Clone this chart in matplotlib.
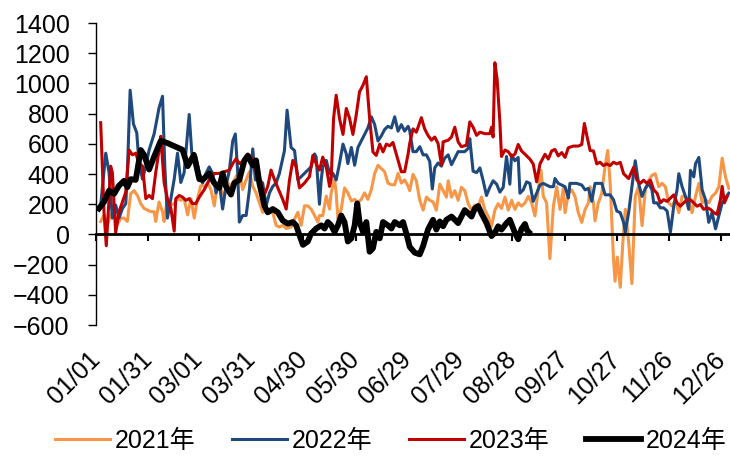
import numpy as np
import matplotlib
matplotlib.use("Agg")
import matplotlib.pyplot as plt

plt.rcParams['font.family'] = ['Liberation Sans', 'Noto Sans CJK SC']

# Jour de l'année (0 = 01/01) et valeurs
d21 = [2.7, 4.6, 6.5, 8.4, 10.4, 12.3, 14.2, 16.1, 18, 19.9, 21.9, 23.8, 25.7, 27.6, 29.5, 31.5,
       33.4, 34.3, 36.2, 38.2, 39.1, 41, 43, 44.9, 46.8, 48.7, 50.6, 52.6, 54.5, 56.4, 58.3, 60.2,
       62.2, 64.1, 66, 67.9, 69.8, 71.8, 73.7, 75.6, 77.5, 80.4, 82.3, 84.2, 86.2, 88.1, 90, 91.9,
       93.8, 95.7, 97.7, 99.6, 101.5, 103.4, 105.3, 107.2, 109.2, 112, 114, 115.9, 117.8, 119.7,
       121.6, 123.5, 125.5, 127.4, 128.3, 130.2, 132.2, 134.1, 135, 137, 137.9, 138.9, 140.8, 142.7,
       144.6, 146.6, 148.5, 150.4, 152.3, 154.2, 156.1, 158.1, 160, 161.9, 163.8, 165.7, 167.6,
       169.6, 171.5, 173.4, 175.3, 177.2, 179.2, 180.1, 182, 183.9, 185.9, 187.8, 189.7, 191.6,
       193.5, 195.4, 197.4, 199.3, 201.2, 202.2, 204.1, 206, 207.9, 209.8, 211.7, 213.7, 215.6,
       217.5, 219.4, 221.3, 223.3, 225.2, 227.1, 229, 230.9, 232.8, 234.8, 236.7, 238.6, 240.5,
       242.4, 244.3, 246.3, 248.2, 250.1, 252, 253.9, 255.5, 256.8, 258.7, 260.6, 262.6, 264.5,
       266.4, 268.3, 269.3, 271.2, 273.1, 275, 276.9, 278.9, 280.8, 282.7, 283.7, 285.6, 286.5,
       288.4, 290.4, 292.3, 293.8, 295.2, 297.1, 298, 299.3, 301, 302.5, 303.9, 305.8, 307.7,
       309.6, 311.5, 313.5, 315.4, 317.3, 319.2, 321.1, 323.1, 325, 326.9, 328.8, 330.7, 332.6,
       334.6, 336.5, 338.4, 340.3, 342.2, 344.2, 346.1, 348, 349.9, 351.8, 353.7, 355.7, 357.6,
       359.5, 361.4, 363.3]
v21 = [86, 129, 65, 129, 150, 65, 108, 108, 86, 269, 290, 258, 204, 172, 161, 150,
       150, 86, 215, 150, 86, 237, 194, 204, 237, 226, 237, 129, 237, 108, 237, 323,
       318, 340, 297, 189, 340, 297, 254, 340, 318, 383, 415, 297, 361, 415, 318, 275,
       211, 146, 168, 146, 146, 60, 49, 60, 39, 49, 103, 146, 60, 189,
       189, 168, 125, 82, 125, 125, 254, 168, 275, 361, 275, 103, 168, 308,
       275, 222, 232, 211, 232, 275, 232, 297, 404, 458, 437, 415, 340,
       329, 329, 404, 340, 361, 318, 290, 398, 355, 226, 161, 247, 226,
       215, 161, 333, 290, 247, 355, 247, 290, 226, 312, 290, 204, 161,
       194, 183, 247, 161, 118, 54, 161, 204, 172, 247, 161, 226, 166,
       209, 187, 209, 252, 209, 123, 295, 424, 252, 209, -160, 187, 316,
       166, 305, 144, 273, 295, 252, 144, 80, 166, 209, 316, 209, 90,
       209, 273, 456, 556, 338, -160, -310, -150, -350, -49, 166, -49, -326,
       252, 316, 58, 295, 359, 391, 402, 316, 338, 316, 209, 187, 230,
       144, 252, 252, 230, 144, 252, 338, 209, 230, 209, 252, 273, 316,
       505, 381, 305]

d22 = [2.7, 5.6, 7.5, 9.4, 11.3, 13.2, 15.2, 17.1, 18, 19.6, 21.5, 23.4, 24.7, 26.7, 28.6, 30.5,
       33.4, 36.2, 38.2, 39.5, 41, 43, 44.9, 46.8, 48.7, 50.6, 53.5, 55, 57.3, 59.3,
       61.2, 63.1, 65, 67, 68.9, 70.8, 72.7, 74.6, 76.6, 78.5, 80, 81.4, 82.3, 84.2, 86.2, 88.1,
       90, 91.5, 93.8, 95.7, 97.7, 99.6, 101.5, 103.4, 105.3, 108.2, 109.7, 112, 114, 115.9, 117.8,
       119.7, 121.6, 123.5, 125.5, 126.4, 128.3, 129.3, 130.2, 132.2, 134.1, 136, 137.9, 139.8,
       141.8, 143.7, 144.6, 146.6, 148.5, 150.4, 152.3, 154.2, 156.1, 158.1, 160, 161.9, 163.8,
       165.7, 167.6, 169.6, 171.5, 173.4, 175.3, 177.2, 179.2, 180.1, 182, 183.9, 185.9, 187.8,
       189.7, 191.6, 193.1, 194.5, 196.4, 198.3, 200.2, 202.2, 204.1, 206, 207.9, 209.8, 211.7,
       213.7, 214.6, 216.5, 218.5, 220.4, 222.3, 224.2, 226.1, 228, 230, 231.9, 233.8, 235.7,
       237.6, 238.6, 240.5, 242.4, 243.4, 245.3, 247.2, 249.1, 251, 253, 254.9, 256.8, 258.7,
       260.6, 262.6, 263.5, 265.4, 267.4, 269.3, 271.2, 272.1, 274.1, 276, 278.9, 280.8, 282.7,
       284.6, 286.5, 288.4, 290.4, 292.3, 295.2, 297.1, 299, 301, 302.9, 303.9, 305.8, 307.7,
       309.6, 311.5, 313.5, 315.4, 317.3, 319.2, 320.2, 322.1, 324, 325.9, 327.9, 329.8, 331.7,
       333.6, 334.6, 336.5, 338.4, 340.3, 341.3, 343.2, 344.2, 346.1, 348, 349.9, 351.8, 353.7,
       355.7, 357.6, 359.5, 361.4, 363.3]
v22 = [194, 538, 409, 108, 194, 108, 172, 204, 409, 955, 731, 673, 473, 366, 452, 559,
       667, 838, 915, 452, 108, 237, 366, 538, 344, 409, 794, 538, 516, 409,
       340, 404, 447, 404, 275, 340, 168, 318, 426, 619, 665, 404, 82, 125, 125, 297,
       566, 361, 361, 340, 189, 275, 318, 340, 404, 555, 823, 576, 555, 361, 383,
       404, 426, 447, 533, 512, 200, 361, 447, 490, 404, 404, 361, 469,
       598, 533, 469, 576, 458, 576, 619, 662, 705, 779, 727, 619, 652,
       695, 716, 705, 779, 684, 727, 684, 716, 688, 548, 548, 581, 527,
       527, 484, 301, 441, 473, 452, 505, 527, 462, 505, 548, 548, 548,
       570, 634, 419, 409, 441, 355, 258, 312, 355, 333, 280, 312, 516,
       333, 527, 488, 510, 273, 295, 348, 338, 219, 273, 327, 338, 327,
       316, 316, 370, 338, 327, 316, 241, 338, 338, 338, 327, 295, 305,
       219, 338, 338, 338, 262, 262, 230, 155, 144, 80, 15, 144, 316,
       488, 338, 252, 305, 338, 295, 209, 209, 176, 176, 155, 15, 187,
       295, 402, 316, 252, 166, 424, 381, 467, 510, 295, 230, 80, 144,
       37, 123, 209, 241, 273]

d23 = [2.7, 4.6, 5.9, 7.5, 8.4, 9.4, 11.3, 13.2, 15.2, 17.1, 19, 20.9, 22.8, 24.7, 26.7, 28.6,
       30.5, 32.4, 34.3, 36.2, 37.2, 39.1, 41, 43, 44.9, 45.8, 47.8, 49.7, 51.6, 53.5, 55.4, 57.3,
       59.3, 62.2, 65, 67.9, 70.8, 73.7, 76.6, 78.5, 80.4, 82.3, 85.2, 87.1, 89, 91, 92.9, 94.8,
       96.7, 98.6, 100.5, 102.5, 104.4, 107.2, 109.2, 111.1, 113, 114.9, 116.8, 119.7,
       122.6, 124.5, 126.4, 128.3, 130.2, 132.2, 134.1, 135, 136.4, 137.9, 139.8, 141.8, 143.7,
       145.6, 147.5, 149.4, 151.3, 153.3, 155.2, 157.1, 159, 160.9, 162.9, 164.8, 166.7, 168.6,
       170.5, 172.4, 175.3, 177.2, 179.2, 180.1, 182, 183.9, 186.8, 188.7, 190.6, 192.6, 194.5,
       196.4, 198.3, 199.3, 202.2, 204.1, 206, 207.9, 209.8, 212.7, 214.6, 216.5, 218.5, 220.4,
       223.3, 226.1, 227.1, 228, 229, 230.3, 231.9, 232.8, 234.8, 236.7, 238.6, 240.5, 242.4,
       244.3, 246.3, 249.1, 251, 253, 254.9, 257.8, 259.7, 261.6, 263.5, 265.4, 267.4, 269.3,
       271.2, 274.1, 277, 278.9, 280.4, 281.7, 283.7, 285.6, 287.5, 289.4, 291.3, 293.2, 295.2,
       297.1, 299, 301, 302.9, 305.8, 308.7, 310.6, 312.5, 314.4, 316.3, 318.3, 320.2, 322.1,
       324, 325.9, 327.9, 329.8, 331.7, 333.6, 335.5, 337.4, 339.4, 341.3, 343.2, 345.1, 347,
       348.9, 350.9, 352.8, 354.7, 356.6, 358.5, 359.5, 360.8, 362.4]
v23 = [740, 150, -75, 237, 452, 409, 11, 150, 215, 280, 559, 527, 538, 473, 452, 237,
       258, 237, 409, 559, 650, 344, 237, 172, 22, 237, 258, 247, 226, 237, 204, 204,
       247, 297, 361, 404, 404, 415, 426, 469, 501, 469, 490, 533, 512, 469, 361, 340,
       264, 318, 426, 361, 308, 232, 168, 361, 490, 447, 308, 340,
       383, 523, 469, 426, 512, 447, 318, 361, 768, 922, 768, 662, 834,
       768, 662, 790, 944, 988, 1044, 768, 546, 523, 598, 546, 598, 587,
       609, 533, 415, 415, 533, 602, 699, 677, 773, 699, 656, 624, 645,
       602, 462, 613, 624, 645, 710, 613, 581, 591, 745, 710, 656, 677,
       667, 667, 710, 645, 1137, 1026, 742, 516, 559, 548, 516, 531, 596,
       553, 531, 499, 467, 348, 467, 531, 499, 553, 563, 520, 542, 510,
       574, 585, 585, 596, 735, 660, 555, 553, 467, 478, 456, 467, 456,
       478, 467, 477, 402, 370, 445, 359, 338, 359, 338, 359, 295, 273,
       209, 230, 219, 241, 262, 209, 187, 209, 230, 230, 209, 187, 198,
       166, 176, 166, 144, 133, 230, 318, 209, 252]

d24 = [1.7, 4.6, 7.5, 10.4, 13.2, 16.1, 18, 20, 22.8, 25.7, 27.6, 30.5, 33.4, 37.2, 41, 49.7,
       52.6, 56.2, 59.3, 61.2, 65, 67.9, 70.8, 72.7, 74.6, 77.5, 79.4, 82.3, 85.2, 87.1, 90,
       91.9, 93.8, 96.7, 98.6, 101.5, 104.4, 107.2, 110.1, 113, 114.9, 116.8, 118.8, 121.6,
       123.5, 126.4, 129.3, 131.2, 133.1, 135, 137, 138.9, 140.8, 142.7, 144.6, 146.6, 148.5,
       150, 151.3, 153.3, 155.2, 157.1, 159, 160.9, 162.9, 164.8, 167.6, 169.6, 171.5, 174.4,
       176.3, 178.2, 180.1, 183, 185.9, 187.8, 190.6, 193.5, 195.4, 197.4, 199.3, 201.2, 204.1,
       206, 207.9, 209.8, 211.7, 213.7, 215.6, 217.5, 219.4, 221.3, 224.2, 227.1, 229, 230.9,
       232.8, 235.7, 237.6, 240.5, 242.4, 244.3, 246.3, 247.5, 248.5]
v24 = [172, 215, 290, 269, 323, 355, 312, 366, 361, 559, 527, 430, 516, 620, 605, 560,
       452, 527, 366, 361, 404, 340, 308, 404, 318, 264, 340, 361, 490, 520, 458,
       490, 340, 189, 146, 168, 146, 92, 71, 82, 60, -4, -69, -47,
       6, 39, 60, 39, 82, 60, 17, 60, 125, 82, -47, -26, 60,
       205, 82, 17, 82, -115, -92, 17, -26, 82, 60, 39, 82, 60,
       82, 6, -82, -121, -132, -77, 32, 97, 32, 86, 54, 97, 118,
       97, 75, 118, 161, 140, 118, 172, 188, 140, 75, -11, 11, 54,
       32, 75, 97, 11, -32, 37, 69, 26, 15]

tick_days = [0, 30, 59, 89, 119, 149, 179, 209, 239, 269, 299, 329, 359]
tick_labels = ['01/01', '01/31', '03/01', '03/31', '04/30', '05/30', '06/29',
               '07/29', '08/28', '09/27', '10/27', '11/26', '12/26']

fig = plt.figure(figsize=(7.3, 4.62), dpi=100)
ax = fig.add_axes([0.1315, 0.2965, 0.8685, 0.6537])

ax.plot(d21, v21, color='#F79646', lw=2.2, label='2021年')
ax.plot(d22, v22, color='#1F497D', lw=2.2, label='2022年')
ax.plot(d23, v23, color='#C00000', lw=2.2, label='2023年')
ax.plot(d24, v24, color='black', lw=4.2, label='2024年')

ax.set_xlim(0, 364)
ax.set_ylim(-600, 1400)
ax.set_yticks(np.arange(-600, 1401, 200))

# axe des x sur la ligne du zéro, étiquettes en bas
for s in ['top', 'right']:
    ax.spines[s].set_visible(False)
ax.spines['bottom'].set_position(('data', 0))
ax.spines['bottom'].set_linewidth(2.0)
ax.spines['left'].set_linewidth(1.0)
ax.set_xticks(tick_days)
ax.tick_params(axis='x', direction='out', length=5, width=1.5, labelbottom=False)
ax.tick_params(axis='y', direction='out', length=6, width=1.0, pad=13, labelsize=18)

sec = ax.secondary_xaxis('bottom')
sec.spines['bottom'].set_visible(False)
sec.set_xticks(tick_days, tick_labels)
sec.tick_params(length=0, pad=22, labelsize=18)
plt.setp(sec.get_xticklabels(), rotation=45, ha='right', va='center', rotation_mode='anchor')

fig.legend(loc='center', bbox_to_anchor=(0.535, 0.046), ncol=4, frameon=False,
           fontsize=18, handlelength=2.2, handletextpad=0.2, columnspacing=1.45)

fig.savefig('out.png', dpi=100)
